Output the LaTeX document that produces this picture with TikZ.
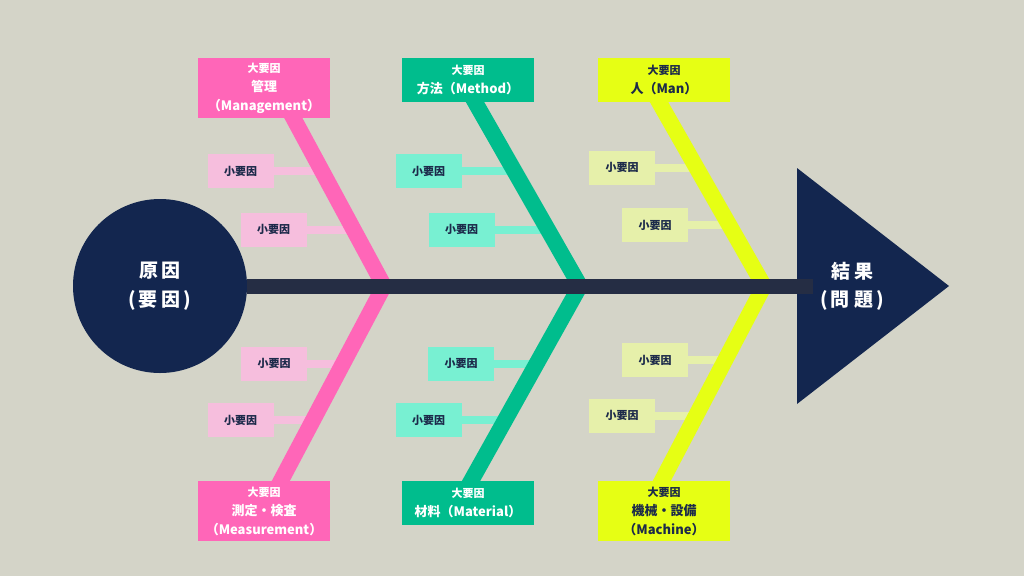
\documentclass[tikz,border=0pt]{standalone}
\usepackage{fontspec}
\setmainfont{Noto Sans CJK JP}
\definecolor{bgc}{HTML}{D4D4C8}
\definecolor{navy}{HTML}{13264F}
\definecolor{spinec}{HTML}{252D44}
\definecolor{navytext}{HTML}{1C2A4A}
\definecolor{pinkc}{HTML}{FF66B8}
\definecolor{pinkl}{HTML}{F6BEDD}
\definecolor{tealc}{HTML}{00BD8D}
\definecolor{teall}{HTML}{78F0D2}
\definecolor{yellowc}{HTML}{E6FF14}
\definecolor{yellowl}{HTML}{E6F0AA}
\pgfdeclarelayer{bg}
\pgfdeclarelayer{twigs}
\pgfdeclarelayer{bones}
\pgfsetlayers{bg,twigs,bones,main}
\begin{document}
\begin{tikzpicture}[x=1pt,y=-1pt,
  bigbox/.style={rectangle, inner sep=0pt, minimum width=132pt, align=center,
    font=\bfseries\fontsize{13}{19}\selectfont},
  subbox/.style={rectangle, inner sep=0pt, minimum width=66pt, minimum height=34pt,
    text=navytext, font=\bfseries\fontsize{11}{13}\selectfont},
  bone/.style={line width=16pt, line join=miter},
  twig/.style={line width=8pt},
  spine/.style={line width=15pt, draw=spinec},
  small/.style={font=\fontsize{11}{19}\selectfont}
]
\useasboundingbox (0,0) rectangle (1024,576);
\begin{pgfonlayer}{bg}
  \fill[bgc] (0,0) rectangle (1024,576);
\end{pgfonlayer}

% head
\fill[navy] (797,168) -- (949,286) -- (797,404) -- cycle;
\coordinate (spineEnd) at (813,286);

% cause circle
\node[circle, fill=navy, minimum size=174pt, inner sep=0pt, text=white, align=center,
  font=\bfseries\fontsize{19}{29}\selectfont] (cause) at (160,286)
  {原\hspace{4pt}因\\(\hspace{3pt}要\hspace{4pt}因\hspace{3pt})};
\draw[spine] (cause.east) -- (spineEnd);
\node[text=white, align=center, font=\bfseries\fontsize{19}{28}\selectfont] (effect) at (852,286)
  {結\hspace{4pt}果\\(\hspace{3pt}問\hspace{4pt}題\hspace{3pt})};

% main factor boxes
\node[bigbox, fill=pinkc, text=white, minimum height=60pt] (mgmt) at (264,88)
  {{\fontsize{11}{19}\selectfont 大要因}\\管理\\（Management）};
\node[bigbox, fill=tealc, text=white, minimum height=44pt] (method) at (468,80)
  {{\fontsize{11}{19}\selectfont 大要因}\\方法（Method）};
\node[bigbox, fill=yellowc, text=navytext, minimum height=44pt] (man) at (664,80)
  {{\fontsize{11}{19}\selectfont 大要因}\\人（Man）};
\node[bigbox, fill=pinkc, text=white, minimum height=60pt] (meas) at (264,511)
  {{\fontsize{11}{19}\selectfont 大要因}\\測定・検査\\（Measurement）};
\node[bigbox, fill=tealc, text=white, minimum height=44pt] (mat) at (468,503)
  {{\fontsize{11}{19}\selectfont 大要因}\\材料（Material）};
\node[bigbox, fill=yellowc, text=navytext, minimum height=60pt] (mach) at (664,511)
  {{\fontsize{11}{19}\selectfont 大要因}\\機械・設備\\（Machine）};

% sub factor boxes
\node[subbox, fill=pinkl] (pt1) at (240.5,171) {小要因};
\node[subbox, fill=pinkl] (pt2) at (273.5,229.5) {小要因};
\node[subbox, fill=pinkl] (pb1) at (274,363.5) {小要因};
\node[subbox, fill=pinkl] (pb2) at (240.5,420) {小要因};
\node[subbox, fill=teall] (tt1) at (428.5,171) {小要因};
\node[subbox, fill=teall] (tt2) at (461.5,229.5) {小要因};
\node[subbox, fill=teall] (tb1) at (461,363.5) {小要因};
\node[subbox, fill=teall] (tb2) at (428.5,420) {小要因};
\node[subbox, fill=yellowl] (yt1) at (622,167.5) {小要因};
\node[subbox, fill=yellowl] (yt2) at (655,225) {小要因};
\node[subbox, fill=yellowl] (yb1) at (655,360) {小要因};
\node[subbox, fill=yellowl] (yb2) at (622,415.5) {小要因};

% bones
\coordinate (pinkTop) at (289,110);
\coordinate (pinkV) at (384,286);
\coordinate (pinkBot) at (276,490);
\coordinate (tealTop) at (471,95);
\coordinate (tealV) at (580,286);
\coordinate (tealBot) at (466,490);
\coordinate (yelTop) at (655,95);
\coordinate (yelV) at (764,286);
\coordinate (yelBot) at (657,490);
\begin{pgfonlayer}{bones}
  \draw[bone, pinkc] (pinkTop) -- (pinkV) -- (pinkBot);
  \draw[bone, tealc] (tealTop) -- (tealV) -- (tealBot);
  \draw[bone, yellowc] (yelTop) -- (yelV) -- (yelBot);
\end{pgfonlayer}

% twigs
\begin{pgfonlayer}{twigs}
  \draw[twig, pinkl] (pt1.east) -- ++(49,0);
  \draw[twig, pinkl] (pt2.east) -- ++(46,0);
  \draw[twig, pinkl] (pb1.east) -- ++(36,0);
  \draw[twig, pinkl] (pb2.east) -- ++(40,0);
  \draw[twig, teall] (tt1.east) -- ++(52,0);
  \draw[twig, teall] (tt2.east) -- ++(52,0);
  \draw[twig, teall] (tb1.east) -- ++(42,0);
  \draw[twig, teall] (tb2.east) -- ++(43,0);
  \draw[twig, yellowl] (yt1.east) -- ++(41,0);
  \draw[twig, yellowl] (yt2.east) -- ++(41,0);
  \draw[twig, yellowl] (yb1.east) -- ++(37,0);
  \draw[twig, yellowl] (yb2.east) -- ++(41,0);
\end{pgfonlayer}
\end{tikzpicture}
\end{document}
